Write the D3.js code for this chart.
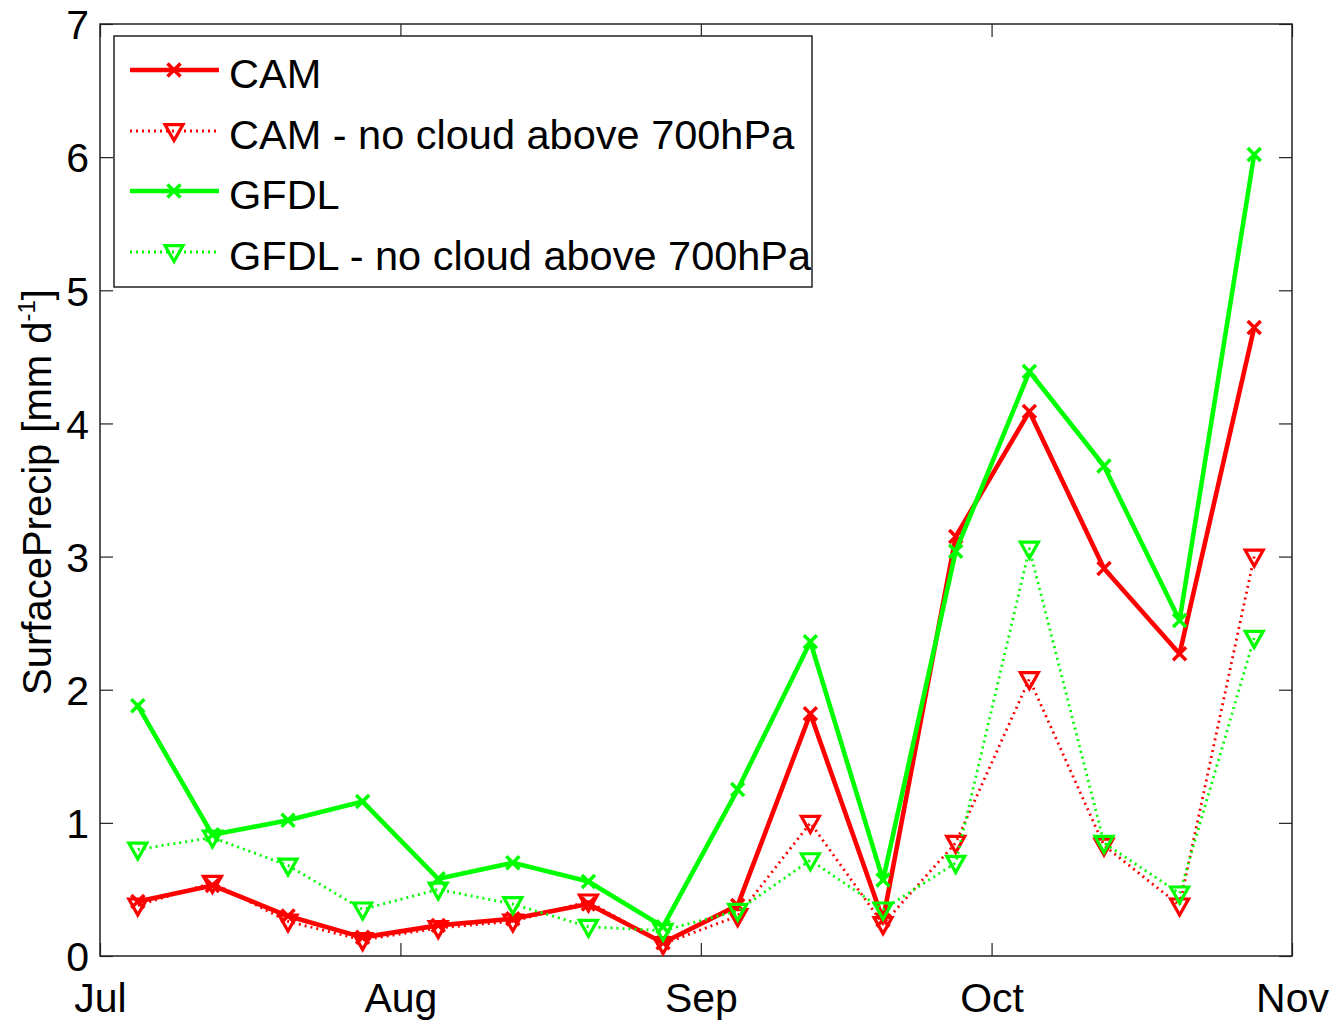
<!DOCTYPE html>
<html><head><meta charset="utf-8">
<script src="https://cdn.jsdelivr.net/npm/d3@7"></script>
<style>
html,body{margin:0;padding:0;background:#fff;}
svg text{font-family:"Liberation Sans",Arial,Helvetica,sans-serif;fill:#000;}
</style></head>
<body>
<svg id="chart" width="1335" height="1022"></svg>
<script>
// Days after 1 July for each sample (quarter-month centres)
const dayOffsets = [3.9, 11.6, 19.4, 27.1, 34.9, 42.6, 50.4, 58.1, 65.8, 73.3, 80.8, 88.3, 95.9, 103.6, 111.4, 119.1];
const camValues      = [0.41, 0.53, 0.30, 0.14, 0.23, 0.28, 0.39, 0.10, 0.38, 1.82, 0.27, 3.15, 4.09, 2.91, 2.27, 4.72];
const camNoCloud     = [0.38, 0.55, 0.26, 0.12, 0.21, 0.26, 0.41, 0.09, 0.30, 1.00, 0.24, 0.85, 2.08, 0.83, 0.38, 3.00];
const gfdlValues     = [1.88, 0.91, 1.02, 1.16, 0.58, 0.70, 0.56, 0.22, 1.25, 2.36, 0.57, 3.04, 4.39, 3.68, 2.52, 6.02];
const gfdlNoCloud    = [0.80, 0.89, 0.68, 0.35, 0.50, 0.39, 0.22, 0.19, 0.34, 0.72, 0.35, 0.70, 3.06, 0.85, 0.47, 2.39];
const seriesNames    = ["CAM", "CAM - no cloud above 700hPa", "GFDL", "GFDL - no cloud above 700hPa"];
const monthLabels    = ["Jul", "Aug", "Sep", "Oct", "Nov"];
const monthStarts    = ["2001-07-01", "2001-08-01", "2001-09-01", "2001-10-01", "2001-11-01"];
const yTicks         = [0, 1, 2, 3, 4, 5, 6, 7];

const base = new Date(2001, 6, 1);
const toDate = d => new Date(base.getTime() + d * 86400000);
const parse = s => { const [y,m,d] = s.split("-").map(Number); return new Date(y, m-1, d); };
const dates = dayOffsets.map(toDate);

const series = [
  {name: seriesNames[0], values: camValues,  color: "#ff0000", dotted: false, marker: "x"},
  {name: seriesNames[1], values: camNoCloud, color: "#ff0000", dotted: true,  marker: "tri"},
  {name: seriesNames[2], values: gfdlValues, color: "#00ff00", dotted: false, marker: "x"},
  {name: seriesNames[3], values: gfdlNoCloud,color: "#00ff00", dotted: true,  marker: "tri"}
];

const L = 100, R = 1292, T = 24, B = 956;
const svg = d3.select("#chart");
const x = d3.scaleTime().domain([parse(monthStarts[0]), parse(monthStarts[4])]).range([L, R]);
const y = d3.scaleLinear().domain([0, 7]).range([B, T]);

const axisColor = "#222";
const tickLen = 13;

const yAxisL = d3.axisLeft(y).tickValues(yTicks).tickSize(-tickLen).tickPadding(11).tickFormat(d3.format("d"));
const yAxisR = d3.axisRight(y).tickValues(yTicks).tickSize(-tickLen).tickFormat("");
const monthDates = monthStarts.map(parse);
const xAxisB = d3.axisBottom(x).tickValues(monthDates).tickSize(-tickLen).tickPadding(26).tickFormat((d,i) => monthLabels[i]);
const xAxisT = d3.axisTop(x).tickValues(monthDates).tickSize(-tickLen).tickFormat("");

function styleAxis(g) {
  g.select(".domain").remove();
  g.selectAll(".tick line").attr("stroke", axisColor).attr("stroke-width", 1.2);
  g.selectAll(".tick text").attr("font-size", 41).attr("font-family", "Liberation Sans, Arial, sans-serif").attr("fill", "#000");
}
svg.append("g").attr("transform", `translate(${L},0)`).call(yAxisL).call(styleAxis)
   .selectAll(".tick text").attr("dy", "0.36em");
svg.append("g").attr("transform", `translate(${R},0)`).call(yAxisR).call(styleAxis);
svg.append("g").attr("transform", `translate(0,${B})`).call(xAxisB).call(styleAxis)
   .selectAll(".tick text").attr("dy", "0.72em");
svg.append("g").attr("transform", `translate(0,${T})`).call(xAxisT).call(styleAxis);

svg.append("rect").attr("x", L).attr("y", T).attr("width", R - L).attr("height", B - T)
   .attr("fill", "none").attr("stroke", axisColor).attr("stroke-width", 1.5);

// Y label
const yl = svg.append("text")
  .attr("transform", `translate(51,492) rotate(-90)`)
  .attr("text-anchor", "middle").attr("font-size", 40);
yl.append("tspan").text("SurfacePrecip [mm d");
yl.append("tspan").text("-1").attr("font-size", 24).attr("dy", -16);
yl.append("tspan").text("]").attr("dy", 16);

function drawMarker(g, type, cx, cy, color) {
  if (type === "x") {
    const s = 6.5;
    g.append("path").attr("d", `M${cx-s},${cy-s}L${cx+s},${cy+s}M${cx-s},${cy+s}L${cx+s},${cy-s}`)
     .attr("stroke", color).attr("stroke-width", 3.5).attr("fill", "none");
  } else {
    const w = 9, h = 16;
    g.append("path").attr("d", `M${cx-w},${cy-h*0.4}L${cx+w},${cy-h*0.4}L${cx},${cy+h*0.6}Z`)
     .attr("stroke", color).attr("stroke-width", 3.2).attr("fill", "none").attr("stroke-linejoin", "miter");
  }
}

const line = d3.line().x((d, i) => x(dates[i])).y(d => y(d));
const plot = svg.append("g");
series.forEach(s => {
  const g = plot.append("g");
  g.append("path").datum(s.values).attr("d", line)
   .attr("fill", "none").attr("stroke", s.color)
   .attr("stroke-width", s.dotted ? 2.8 : 4.6)
   .attr("stroke-dasharray", s.dotted ? "2,4" : null)
   .attr("stroke-linejoin", "round");
  s.values.forEach((v, i) => drawMarker(g, s.marker, x(dates[i]), y(v), s.color));
});

// Legend
const lg = svg.append("g");
lg.append("rect").attr("x", 114).attr("y", 36).attr("width", 698).attr("height", 251)
  .attr("fill", "#fff").attr("stroke", axisColor).attr("stroke-width", 1.5);
const rowY = [70, 131, 191, 252];
series.forEach((s, i) => {
  const ry = rowY[i];
  lg.append("line").attr("x1", 130).attr("x2", 219).attr("y1", ry).attr("y2", ry)
    .attr("stroke", s.color).attr("stroke-width", s.dotted ? 2.8 : 4.6)
    .attr("stroke-dasharray", s.dotted ? "2,4" : null);
  drawMarker(lg, s.marker, 174, ry, s.color);
  lg.append("text").attr("x", 229).attr("y", ry + 18)
    .attr("font-size", 41.5).text(s.name);
});
</script>
</body></html>
